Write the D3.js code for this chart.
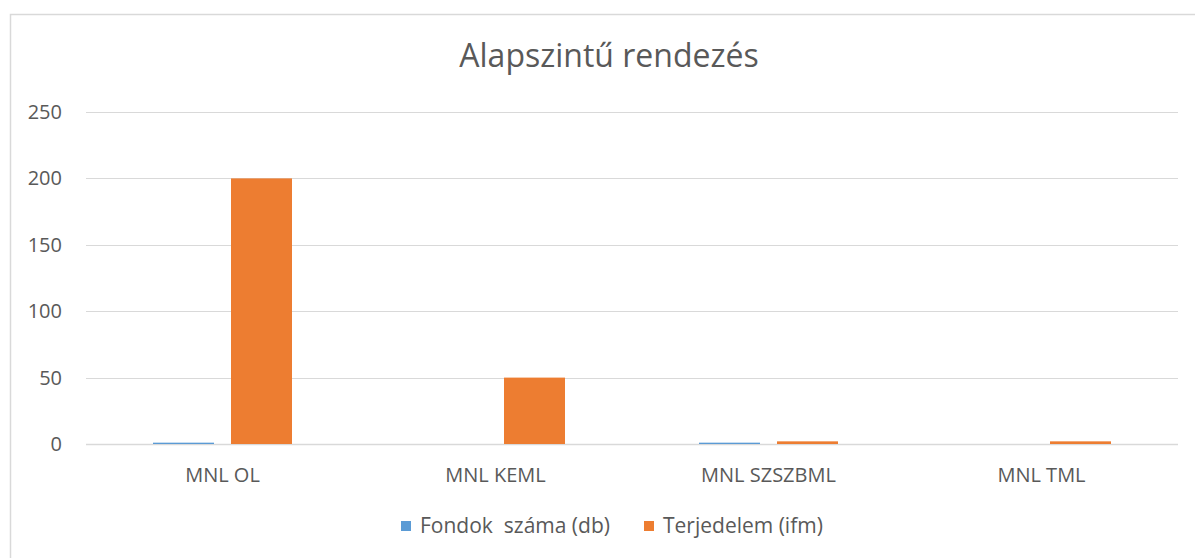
<!DOCTYPE html>
<html>
<head>
<meta charset="utf-8">
<script src="https://cdn.jsdelivr.net/npm/d3@7"></script>
<style>
  body { margin: 0; background: #fff; }
  text { font-family: "Open Sans", sans-serif; fill: #595959; }
</style>
</head>
<body>
<div class="chart"></div>
<script>
// Alapszintű rendezés – oszlopdiagram

var categories = ["MNL OL", "MNL KEML", "MNL SZSZBML", "MNL TML"];
var seriesNames = ["Fondok  száma (db)", "Terjedelem (ifm)"];
var fondok = [1, 0, 1, 0];
var terjedelem = [200, 50, 2, 2];
var yTicks = [0, 50, 100, 150, 200, 250];
var colors = ["#5b9bd5", "#ed7d31"];

var width = 1195, height = 558;
var margin = {top: 112, right: 17, bottom: 114, left: 86};

var svg = d3.select(".chart").append("svg")
    .attr("width", width)
    .attr("height", height);

// keret
svg.append("rect")
    .attr("x", 10.5).attr("y", 14.5)
    .attr("width", width).attr("height", height)
    .attr("fill", "none")
    .attr("stroke", "#d9d9d9")
    .attr("stroke-width", 1.5);

var x = d3.scaleBand()
    .domain(categories)
    .range([margin.left, width - margin.right]);

var y = d3.scaleLinear()
    .domain([0, 250])
    .range([height - margin.bottom, margin.top]);

// series offset inside each band
var xs = d3.scaleBand()
    .domain([0, 1])
    .range([0, x.bandwidth()])
    .paddingInner(0.218)
    .paddingOuter(0.859);

/* gridlines */
svg.append("g")
    .selectAll("line")
    .data(yTicks)
    .join("line")
    .attr("x1", margin.left)
    .attr("x2", width - margin.right)
    .attr("y1", function(d) { return Math.round(y(d)) + 0.5; })
    .attr("y2", function(d) { return Math.round(y(d)) + 0.5; })
    .attr("stroke", "#d9d9d9")
    .attr("stroke-width", function(d) { return d === 0 ? 1.5 : 1; });

/* y labels */
svg.append("g")
    .selectAll("text")
    .data(yTicks)
    .join("text")
    .attr("x", 62)
    .attr("y", function(d) { return y(d); })
    .attr("dy", "0.35em")
    .attr("text-anchor", "end")
    .style("font-size", "20px")
    .text(function(d) { return d; });

/* bars */
var data = categories.map(function(c, i) { return {cat: c, values: [fondok[i], terjedelem[i]]}; });

var groups = svg.append("g")
    .selectAll("g")
    .data(data)
    .join("g")
    .attr("transform", function(d) { return "translate(" + x(d.cat) + ",0)"; });

groups.selectAll("rect")
    .data(function(d) { return d.values.map(function(v, k) { return {k: k, v: v}; }); })
    .join("rect")
    .attr("x", function(d) { return xs(d.k); })
    .attr("width", xs.bandwidth())
    .attr("y", function(d) { return y(d.v); })
    .attr("height", function(d) { return y(0) - y(d.v); })
    .attr("fill", function(d) { return colors[d.k]; });

/* x labels */
svg.append("g")
    .selectAll("text")
    .data(categories)
    .join("text")
    .attr("x", function(d) { return x(d) + x.bandwidth() / 2; })
    .attr("y", 482)
    .attr("text-anchor", "middle")
    .style("font-size", "20px")
    .text(function(d) { return d; });

/* title */
svg.append("text")
    .attr("x", 609)
    .attr("y", 67)
    .attr("text-anchor", "middle")
    .style("font-size", "32px")
    .text("Alapszintű rendezés");

/* legend */
var legendX = [401, 644];
var legend = svg.append("g")
    .selectAll("g")
    .data(seriesNames)
    .join("g")
    .attr("transform", function(d, i) { return "translate(" + legendX[i] + ",521)"; });

legend.append("rect")
    .attr("width", 10).attr("height", 10)
    .attr("fill", function(d, i) { return colors[i]; });

legend.append("text")
    .attr("x", 19)
    .attr("y", 5)
    .attr("dy", "0.35em")
    .style("font-size", "21px")
    .style("white-space", "pre")
    .text(function(d) { return d; });
</script>
</body>
</html>
